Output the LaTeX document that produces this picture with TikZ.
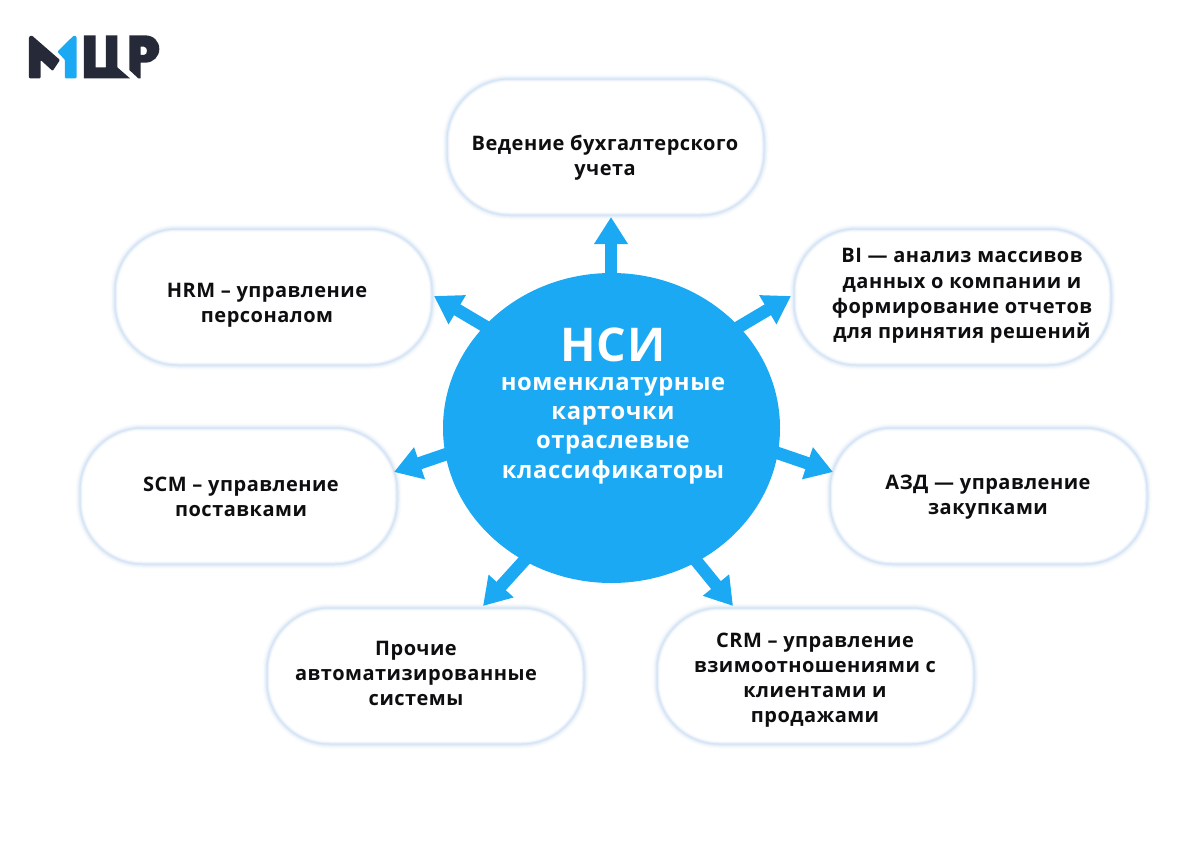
\documentclass[tikz,border=0pt]{standalone}
\usepackage{fontspec}
\setmainfont[LetterSpace=2.5]{Open Sans}
\usetikzlibrary{arrows.meta,shapes.geometric}
\definecolor{hub}{HTML}{1CA9F4}
\definecolor{glow}{HTML}{B4D0F0}
\definecolor{ink}{HTML}{0E0E10}
\definecolor{logodark}{HTML}{262A38}
\tikzset{
  card/.style={draw=none,fill=white,rounded corners=62pt,minimum width=316pt,minimum height=135pt,inner sep=0pt,
    preaction={draw=glow,line width=10pt,opacity=.08},
    preaction={draw=glow,line width=7pt,opacity=.12},
    preaction={draw=glow,line width=4pt,opacity=.18},
    postaction={draw=glow,line width=5pt,opacity=.06},
    postaction={draw=glow,line width=3pt,opacity=.14},
    postaction={draw=glow,line width=1.5pt,opacity=.18}},
  cardtext/.style={align=center,text=ink,font=\fontsize{20}{25.2}\selectfont\bfseries,inner sep=0pt},
  hubtext/.style={align=center,text=white,font=\fontsize{23.8}{29.3}\selectfont\bfseries,inner sep=0pt},
  flow/.style={hub,line width=12.5pt,-{Triangle[width=32pt,length=27pt]}},
}
\begin{document}
\begin{tikzpicture}[x=1pt,y=-1pt]
\useasboundingbox (0,0) rectangle (1200,849);
\fill[white] (0,0) rectangle (1200,849);
% logo
\begin{scope}[shift={(0,10)},x=0.3333pt,y=-0.3333pt]
\fill[logodark,rounded corners=1pt] (87,205) -- (87,80) -- (95,76) -- (180,150) -- (158,183) -- (122,150) -- (122,205) -- cycle;
\fill[hub,rounded corners=1pt] (172,125) -- (222,76) -- (230,80) -- (230,205) -- (195,205) -- (195,150) -- cycle;
\fill[logodark] (252,76) -- (287,76) -- (287,172) -- (318,172) -- (318,76) -- (352,76) -- (352,172) -- (390,205) -- (252,205) -- cycle;
\fill[logodark,even odd rule] (388,76) -- (435,76) .. controls (462,76) and (478,95) .. (478,117) .. controls (478,140) and (460,158) .. (436,158) -- (422,158) -- (422,205) -- (415,205) -- (388,180) -- cycle
  (422,110) -- (432,110) .. controls (444,110) and (444,135) .. (432,135) -- (422,135) -- cycle;
\end{scope}
% cards
\node[card] (top) at (605.5,147) {};
\node[card] (hrm) at (273.5,297) {};
\node[card] (bi) at (952.5,297) {};
\node[card] (scm) at (238.5,496) {};
\node[card] (azd) at (988.5,496) {};
\node[card] (oth) at (425.5,676) {};
\node[card] (crm) at (815.5,676) {};
% arrow ends
\coordinate (s1) at (611,300); \coordinate (t1) at (611,217);
\coordinate (s2) at (520,347); \coordinate (t2) at (434,296);
\coordinate (s3) at (705,347); \coordinate (t3) at (791,296);
\coordinate (s4) at (470,446); \coordinate (t4) at (394,472);
\coordinate (s5) at (757,446); \coordinate (t5) at (833,472);
\coordinate (s6) at (551,531); \coordinate (t6) at (483,606);
\coordinate (s7) at (672,531); \coordinate (t7) at (733,606);
\draw[flow] (s1) -- (t1);
\draw[flow] (s2) -- (t2);
\draw[flow] (s3) -- (t3);
\draw[flow] (s4) -- (t4);
\draw[flow] (s5) -- (t5);
\draw[flow] (s6) -- (t6);
\draw[flow] (s7) -- (t7);
% hub
\node[ellipse,fill=hub,minimum width=337pt,minimum height=310pt,inner sep=0pt] (c) at (611.5,428) {};
\node[hubtext,font=\fontsize{46.5}{50}\selectfont\bfseries] (hubtitle) at (613,345) {НСИ};
\node[hubtext] (hubbody) at (613,430.5) {номенклатурные\\карточки\\отраслевые\\классификаторы};
% texts
\node[cardtext] (ttop) at (605,158) {Ведение бухгалтерского\\учета};
\node[cardtext] (thrm) at (267,305) {HRM – управление\\персоналом};
\node[cardtext] (tbi) at (962,296) {BI — анализ массивов\\данных о компании и\\формирование отчетов\\для принятия решений};
\node[cardtext] (tscm) at (241,497) {SCM – управление\\поставками};
\node[cardtext] (tazd) at (988,497) {АЗД — управление\\закупками};
\node[cardtext] (toth) at (416,673.5) {Прочие\\автоматизированные\\системы};
\node[cardtext] (tcrm) at (815,680) {CRM – управление\\взимоотношениями с\\клиентами и\\продажами};
\end{tikzpicture}
\end{document}
